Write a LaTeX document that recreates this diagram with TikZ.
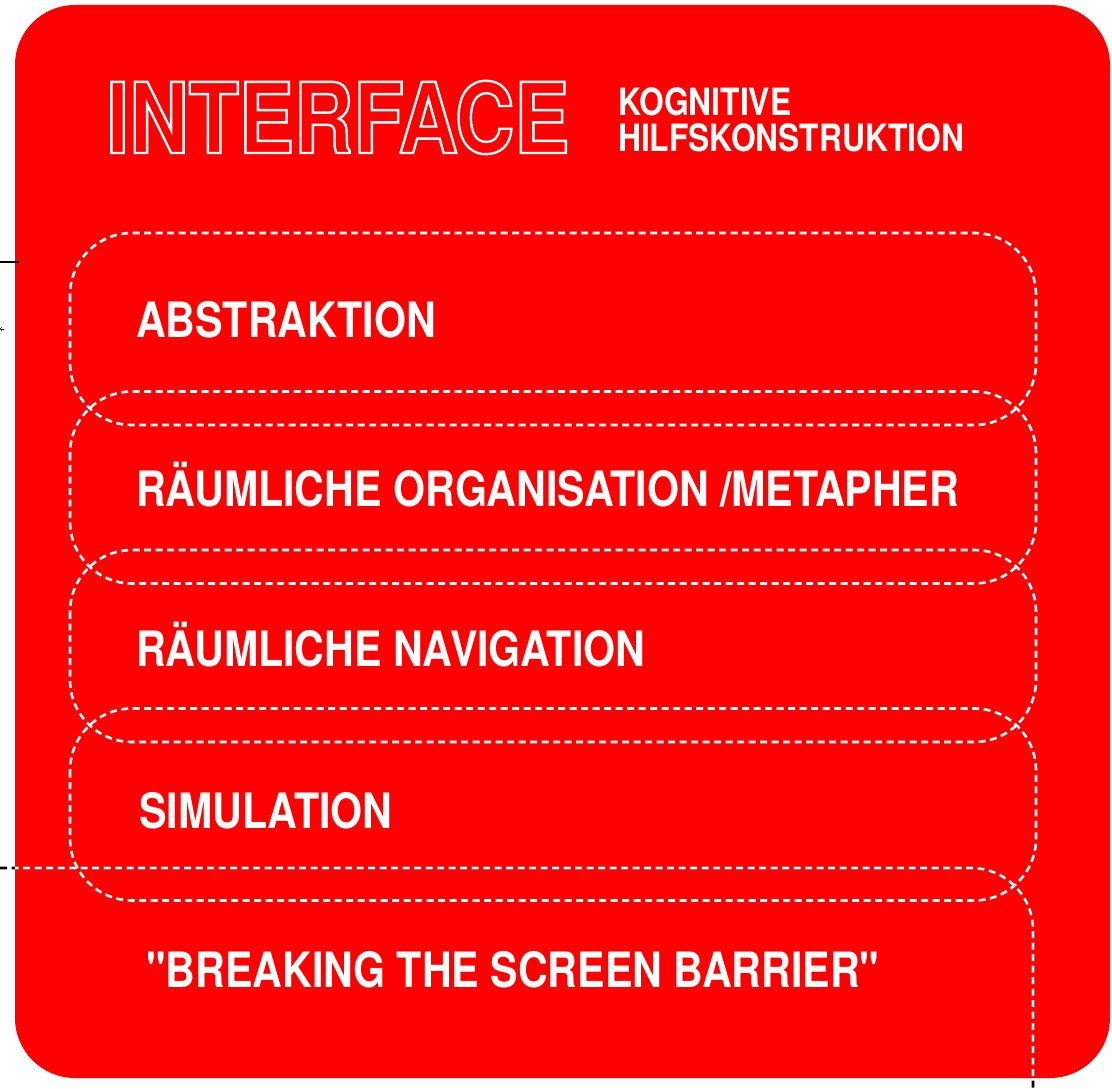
\documentclass[tikz,border=0pt]{standalone}
\usepackage{fontspec}
\setmainfont{TeX Gyre Heros}[FakeStretch=0.845,Ligatures=TeXOff]
\newcommand{\hollowtext}[1]{\special{pdf:code 1 Tr 2.4 w}#1\special{pdf:code 0 Tr}}
\begin{document}
\begin{tikzpicture}[x=1pt,y=-1pt,
  lbl/.style={anchor=base west,inner sep=0pt,text=white,font=\bfseries\fontsize{48.7}{50}\selectfont},
  lane/.style={draw=white,line width=2.6pt,dash pattern=on 7pt off 4.5pt,rounded corners=62pt}]
\useasboundingbox (0,0) rectangle (1112,1089);
\fill[red,rounded corners=60pt](15,5) rectangle (1110,1078);
\coordinate (in1) at (0,262);
\coordinate (in1e) at (20,262);
\coordinate (in2) at (0,329);
\coordinate (in2e) at (4,329);
\draw[line width=2pt](in1)--(in1e);
\draw[<-,line width=0.6pt](in2)--(in2e);
\node[anchor=base west,inner sep=0pt,text=white,font=\bfseries\fontsize{97.5}{100}\selectfont] (title) at (106,153){\hollowtext{INTERFACE}};
\node[anchor=base west,inner sep=0pt,text=white,align=left,font=\bfseries\fontsize{37.6}{36}\selectfont] (sub) at (618,152){KOGNITIVE\\HILFSKONSTRUKTION};
\draw[lane](70,233) rectangle (1036,425);
\draw[lane](70,391.5) rectangle (1036,583.5);
\draw[lane](70,550) rectangle (1036,742);
\draw[lane](70,708.5) rectangle (1036,900.5);
\coordinate (screenin) at (0,868);
\coordinate (screenout) at (1033,1089);
\draw[lane,draw=black](screenin)-|(screenout);
\begin{scope}
\clip[rounded corners=60pt](15,5) rectangle (1110,1078);
\draw[lane](screenin)-|(screenout);
\end{scope}
\node[lbl] (abstr) at (136,337){ABSTRAKTION};
\node[lbl] (raum) at (136,506){RÄUMLICHE ORGANISATION /METAPHER};
\node[lbl] (navi) at (136,666){RÄUMLICHE NAVIGATION};
\node[lbl] (simu) at (139,828){SIMULATION};
\node[lbl] (barrier) at (146,987){"BREAKING THE SCREEN BARRIER"};
\end{tikzpicture}
\end{document}
